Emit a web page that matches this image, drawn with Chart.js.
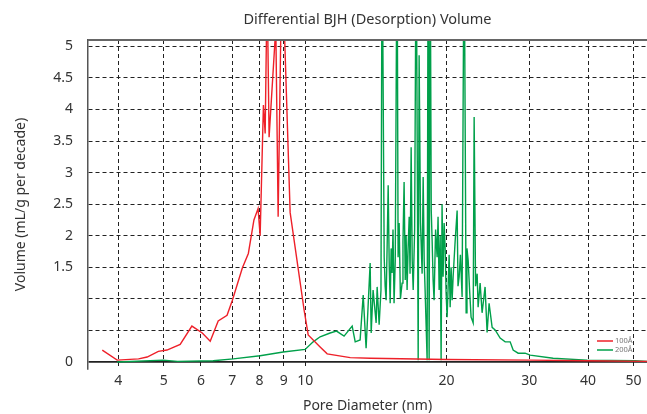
<!DOCTYPE html>
<html>
<head>
<meta charset="utf-8">
<script src="https://cdn.jsdelivr.net/npm/chart.js@4/dist/chart.umd.min.js"></script>
<style>
  html, body { margin: 0; padding: 0; background: #fff; }
  #wrap { width: 647px; height: 414px; }
</style>
</head>
<body>
<div id="wrap"><canvas id="chart"></canvas></div>
<script>
// Differential BJH (Desorption) Volume, two samples
const seriesLabels = ['100Å', '200Å'];
const seriesColors = ['#ee2029', '#00a04a'];

const xTicks = [4, 5, 6, 7, 8, 9, 10, 20, 30, 40, 50];
const yTicks = [0, 0.5, 1, 1.5, 2, 2.5, 3, 3.5, 4, 4.5, 5];
const yHidden = [0.5, 1];

// 100Å sample
const poreA = [3.70, 3.98, 4.42, 4.61, 4.87, 5.08, 5.42, 5.74, 6.04, 6.28, 6.53, 6.82, 7.00, 7.35, 7.57,
  7.78, 7.94, 8.02, 8.15, 8.22, 8.30, 8.38, 8.66, 8.76, 8.89, 9.02, 9.29, 9.95, 10.15, 10.76, 11.14,
  12.47, 13.75, 20.0, 30.1, 39.8, 53.4];
const volA = [0.19, 0.03, 0.05, 0.08, 0.17, 0.19, 0.28, 0.57, 0.46, 0.33, 0.65, 0.74, 0.98, 1.49, 1.72,
  2.25, 2.43, 2.0, 4.07, 3.62, 6.0, 3.56, 5.3, 2.3, 5.6, 5.4, 2.37, 0.82, 0.43, 0.24, 0.13,
  0.07, 0.06, 0.04, 0.03, 0.02, 0.01];

// 200Å sample (noisy between 13 and 25 nm)
const poreB = [3.98, 4.99, 5.35, 6.37, 7.03, 8.02, 8.98, 10.0, 10.4, 10.76, 11.3, 11.66, 12.1, 12.59, 12.78,
  13.09, 13.29, 13.48, 13.75, 13.82, 13.95, 14.16, 14.23, 14.37, 14.5, 14.58, 14.73, 14.80, 14.87, 14.95,
  15.02, 15.10, 15.17, 15.24, 15.31, 15.38, 15.46, 15.55, 15.69, 15.77, 15.85, 15.95, 16.08, 16.15, 16.24,
  16.33, 16.40, 16.48, 16.56, 16.65, 16.72, 16.81, 16.90, 16.98, 17.10, 17.23, 17.40, 17.48, 17.60, 17.74,
  17.83, 17.92, 18.0, 18.18, 18.27, 18.36, 18.45, 18.55, 18.63, 18.72, 18.81, 18.95, 19.09, 19.18, 19.28,
  19.38, 19.47, 19.56, 19.66, 19.76, 19.86, 19.95, 20.05, 20.15, 20.25, 20.35, 20.45, 20.55, 20.65, 20.85,
  21.06, 21.15, 21.27, 21.40, 21.58, 21.79, 22.01, 22.10, 22.23, 22.40, 22.55, 22.78, 22.89, 23.05, 23.23,
  23.34, 23.57, 23.80, 24.15, 24.39, 24.63, 25.0, 25.37, 26.0, 26.65, 27.31, 27.71, 28.4, 29.39, 30.12,
  33.71, 39.8, 50.37, 53.4];
const volB = [0.0, 0.03, 0.01, 0.02, 0.05, 0.1, 0.16, 0.2, 0.32, 0.40, 0.46, 0.49, 0.41, 0.57, 0.32,
  0.35, 1.06, 0.22, 1.57, 0.46, 1.14, 0.62, 1.19, 0.59, 1.14, 7.0, 1.66, 1.2, 0.98, 1.9,
  2.8, 1.5, 0.93, 1.8, 1.41, 2.1, 0.93, 1.6, 7.0, 1.66, 2.2, 1.0, 1.25, 1.9, 2.85,
  1.3, 2.0, 1.14, 1.8, 2.3, 1.4, 3.4, 1.6, 1.14, 2.1, 7.0, 0.03, 4.86, 2.2, 1.4,
  2.93, 1.6, 1.14, 0.03, 7.0, 0.03, 7.0, 2.4, 1.93, 1.3, 0.98, 2.1, 1.66, 2.3, 1.14,
  2.0, 0.03, 2.5, 1.35, 2.2, 1.8, 1.1, 0.71, 1.19, 1.7, 0.87, 1.5, 0.98, 1.35, 1.9,
  2.4, 1.2, 1.35, 1.7, 1.03, 7.0, 0.78, 1.8, 1.61, 1.1, 0.71, 0.62, 3.88, 1.2, 1.4,
  0.87, 1.25, 0.78, 1.19, 0.47, 0.93, 0.55, 0.51, 0.38, 0.32, 0.32, 0.19, 0.14, 0.14, 0.11,
  0.06, 0.03, 0.02, 0.01];

const FONT = '"Noto Sans", "DejaVu Sans", sans-serif';

const toPoints = (xs, ys) => xs.map((x, i) => ({ x: x, y: ys[i] }));

// frame line on top + small legend box in the lower right
const framePlugin = {
  id: 'frame',
  afterDraw(chart) {
    const { ctx, chartArea } = chart;
    ctx.save();
    ctx.strokeStyle = '#666';
    ctx.lineWidth = 2;
    ctx.beginPath();
    ctx.moveTo(chartArea.left, chartArea.top);
    ctx.lineTo(chartArea.right, chartArea.top);
    ctx.stroke();

    ctx.font = '7.5px ' + FONT;
    ctx.textBaseline = 'middle';
    chart.data.datasets.forEach((ds, i) => {
      const y = chartArea.bottom - 28 + i * 9;
      const x0 = chartArea.right - 50;
      ctx.strokeStyle = ds.borderColor;
      ctx.lineWidth = 1.5;
      ctx.beginPath();
      ctx.moveTo(x0, y);
      ctx.lineTo(x0 + 16, y);
      ctx.stroke();
      ctx.fillStyle = '#777';
      ctx.fillText(ds.label, x0 + 18, y);
    });
    ctx.restore();
  }
};

const isZero = ctx => ctx.tick && ctx.tick.value === 0;

new Chart(document.getElementById('chart'), {
  type: 'line',
  data: {
    datasets: [
      { label: seriesLabels[0], data: toPoints(poreA, volA), borderColor: seriesColors[0] },
      { label: seriesLabels[1], data: toPoints(poreB, volB), borderColor: seriesColors[1] }
    ]
  },
  options: {
    responsive: true,
    maintainAspectRatio: false,
    animation: false,
    devicePixelRatio: 1,
    layout: { padding: 0 },
    elements: {
      line: { borderWidth: 1.4, tension: 0, fill: false },
      point: { radius: 0 }
    },
    plugins: {
      legend: { display: false },
      tooltip: { enabled: false },
      title: {
        display: true,
        text: 'Differential BJH (Desorption) Volume',
        fullSize: false,
        color: '#333',
        font: { family: FONT, size: 14.5, weight: 'normal' },
        padding: { top: 11.3, bottom: 11.3 }
      }
    },
    scales: {
      x: {
        type: 'logarithmic',
        min: 3.45,
        max: 53.4,
        afterBuildTicks: s => { s.ticks = xTicks.map(v => ({ value: v })); },
        afterFit: s => { s.height = 45; },
        ticks: {
          color: '#333',
          font: { family: FONT, size: 14 },
          padding: 4,
          autoSkip: false,
          maxRotation: 0,
          callback: v => String(v)
        },
        grid: { color: '#222', lineWidth: 1, drawTicks: false },
        border: { display: false, dash: [4, 3] },
        title: {
          display: true,
          text: 'Pore Diameter (nm)',
          color: '#333',
          font: { family: FONT, size: 14 },
          padding: { top: 0, bottom: 0 }
        }
      },
      y: {
        min: -0.11,
        max: 5.1,
        afterBuildTicks: s => { s.ticks = yTicks.map(v => ({ value: v })); },
        afterFit: s => { s.width = 88; },
        ticks: {
          color: '#333',
          font: { family: FONT, size: 14 },
          padding: 15,
          callback: v => (yHidden.includes(v) ? '' : String(v))
        },
        grid: {
          color: '#222',
          lineWidth: ctx => (isZero(ctx) ? 1.8 : 1),
          drawTicks: false
        },
        border: {
          display: true,
          color: '#555',
          width: 1.5,
          dash: ctx => (isZero(ctx) ? [] : [4, 3])
        },
        title: {
          display: true,
          text: 'Volume (mL/g per decade)',
          color: '#333',
          font: { family: FONT, size: 14 },
          padding: { top: 13, bottom: 0 }
        }
      }
    }
  },
  plugins: [framePlugin]
});
</script>
</body>
</html>
